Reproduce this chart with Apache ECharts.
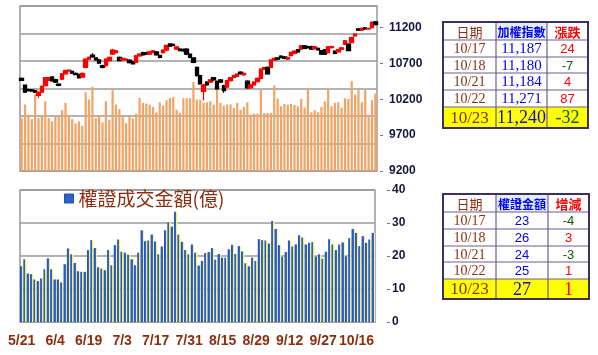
<!DOCTYPE html>
<html>
<head>
<meta charset="utf-8">
<script src="https://cdn.jsdelivr.net/npm/echarts@6/dist/echarts.min.js"></script>
<style>
html,body{margin:0;padding:0;background:#fff;}
#c{width:598px;height:355px;}
</style>
</head>
<body>
<div id="c"></div>
<script>
// ---------------- DATA ----------------
const dates = ['5/21','5/22','5/23','5/24','5/27','5/28','5/29','5/30','5/31','6/3',
 '6/4','6/5','6/6','6/10','6/11','6/12','6/13','6/14','6/17','6/18',
 '6/19','6/20','6/21','6/24','6/25','6/26','6/27','6/28','7/1','7/2',
 '7/3','7/4','7/5','7/8','7/9','7/10','7/11','7/12','7/15','7/16',
 '7/17','7/18','7/19','7/22','7/23','7/24','7/25','7/26','7/29','7/30',
 '7/31','8/1','8/2','8/5','8/6','8/7','8/8','8/12','8/13','8/14',
 '8/15','8/16','8/19','8/20','8/21','8/22','8/23','8/26','8/27','8/28',
 '8/29','8/30','9/2','9/3','9/4','9/5','9/6','9/9','9/10','9/11',
 '9/12','9/16','9/17','9/18','9/19','9/20','9/23','9/24','9/25','9/26',
 '9/27','10/1','10/2','10/3','10/4','10/7','10/8','10/9','10/14','10/15',
 '10/16','10/17','10/18','10/21','10/22','10/23'];

const marketVolume = [963,1207,1024,945,1390,963,982,1268,963,902,
 994,994,1104,1238,1006,945,860,902,823,1433,
 1299,1530,963,1006,884,1268,933,1470,1207,1128,
 994,872,982,957,1043,1329,1238,1226,1207,1165,
 1067,1250,1189,1287,1329,1348,1116,1055,1323,1323,
 1323,1616,1299,1299,1238,1250,1268,1207,1470,1238,
 1189,1210,1210,1146,1238,1116,1165,1250,1024,1043,
 1043,1482,1055,1055,1055,1555,1317,1177,1220,1207,
 1220,1200,1177,1311,1152,1494,1067,1104,1067,1165,
 1262,1500,1177,1238,1250,1152,1323,1311,1634,1390,
 1482,1250,1470,1024,1287,1409];

const openPrice = [10490,10395,10335,10330,10320,10255,10300,10390,10465,10510,
 10475,10410,10480,10555,10595,10590,10560,10545,10510,10645,
 10760,10815,10775,10750,10670,10668,10740,10830,10850,10785,
 10750,10750,10745,10720,10715,10805,10850,10850,10830,10855,
 10860,10810,10850,10885,10970,10965,10900,10900,10895,10900,
 10830,10775,10645,10530,10310,10440,10440,10500,10450,10470,
 10390,10370,10460,10505,10520,10577,10540,10452,10360,10400,
 10445,10490,10620,10645,10645,10745,10775,10800,10790,10760,
 10807,10840,10890,10900,10945,10935,10935,10905,10910,10876,
 10890,10850,10920,10870,10860,10900,10968,10968,10990,11083,
 11180,11165,11195,11180,11200,11280];

const closePrice = [10465,10300,10320,10315,10300,10300,10380,10500,10500,10455,
 10440,10395,10555,10600,10605,10565,10545,10500,10560,10760,
 10785,10790,10750,10705,10645,10760,10785,10885,10875,10740,
 10770,10760,10710,10695,10805,10830,10820,10830,10860,10875,
 10820,10785,10885,10950,10940,10950,10930,10880,10875,10830,
 10785,10715,10530,10415,10400,10400,10470,10470,10345,10440,
 10320,10460,10500,10530,10550,10554,10560,10360,10400,10440,
 10490,10620,10640,10555,10747,10770,10760,10785,10770,10780,
 10852,10870,10860,10945,10910,10920,10900,10930,10890,10830,
 10830,10930,10935,10840,10890,10915,11014,10880,11060,11107,
 11163,11187,11180,11184,11271,11240];

const highPrice = [10502,10407,10347,10342,10332,10312,10392,10512,10512,10522,
 10487,10422,10567,10612,10617,10602,10572,10557,10572,10772,
 10797,10840,10787,10762,10682,10772,10797,10905,10887,10797,
 10782,10772,10757,10732,10817,10842,10862,10862,10872,10887,
 10872,10822,10897,10962,10982,10977,10942,10912,10907,10912,
 10842,10787,10657,10542,10412,10452,10482,10512,10462,10482,
 10402,10472,10512,10542,10562,10589,10572,10464,10412,10452,
 10502,10632,10652,10657,10759,10782,10787,10812,10802,10792,
 10864,10882,10902,10957,10957,10947,10947,10942,10922,10888,
 10902,10942,10947,10882,10902,10927,11026,10980,11072,11119,
 11192,11199,11207,11196,11283,11292];

const lowPrice = [10453,10288,10308,10303,10288,10220,10288,10378,10453,10443,
 10428,10383,10468,10543,10583,10553,10533,10488,10498,10633,
 10748,10778,10738,10693,10633,10656,10728,10818,10838,10728,
 10738,10738,10698,10683,10703,10793,10808,10818,10818,10843,
 10808,10773,10838,10873,10928,10938,10888,10868,10863,10818,
 10773,10703,10518,10403,10185,10388,10428,10458,10333,10428,
 10290,10358,10448,10493,10508,10542,10528,10348,10348,10388,
 10433,10478,10608,10543,10633,10733,10748,10773,10758,10748,
 10795,10828,10848,10888,10898,10908,10888,10893,10878,10818,
 10818,10838,10908,10828,10848,10888,10956,10868,10978,11071,
 11151,11153,11168,11168,11188,11228];

const warrantAmount = [16.9,19.0,14.7,14.5,12.9,12.4,13.2,16.0,19.3,16.0,
 12.9,12.9,12.0,17.5,22.3,20.5,17.9,15.4,15.2,15.2,
 21.8,24.8,22.4,16.6,16.2,15.7,21.8,17.2,23.3,25.0,
 21.3,21.0,20.4,19.0,17.2,21.0,27.8,24.5,24.7,26.5,
 24.4,20.5,22.9,27.8,30.2,28.9,33.4,26.5,24.3,21.8,
 20.5,23.5,21.0,17.1,18.5,20.9,21.2,22.4,18.9,20.6,
 19.5,19.5,22.0,23.4,20.6,23.0,21.4,17.8,16.9,19.5,
 18.5,25.1,24.8,24.7,23.8,30.6,28.2,23.3,19.8,21.2,
 24.7,22.9,23.5,26.3,25.6,23.5,24.0,24.2,19.8,20.5,
 19.2,21.3,25.1,23.5,21.8,23.5,24.1,19.9,25.4,28.2,
 27,23,26,24,25,27];

const warrantName = '權證成交金額(億)';

const idxTableHeader = ['日期','加權指數','漲跌'];
const idxTableDates = ['10/17','10/18','10/21','10/22','10/23'];
const idxTableValues = ['11,187','11,180','11,184','11,271','11,240'];
const idxTableChanges = ['24','-7','4','87','-32'];

const wTableHeader = ['日期','權證金額','增減'];
const wTableDates = ['10/17','10/18','10/21','10/22','10/23'];
const wTableValues = ['23','26','24','25','27'];
const wTableChanges = ['-4','3','-3','1','1'];

// ---------------- LAYOUT / STYLE ----------------
const GRID_GRAY = '#9a9a9a';
const BROWN = '#8B2E10';
const BLUE = '#0000F0';
const RED = '#FF0000';
const GREEN = '#0B5A0B';

function buildTable(cols, rows, header, c1, c2, c3, valueFont) {
  const els = [];
  const nRows = rows.length - 1;
  els.push({type:'rect', z:1, shape:{x:cols[0], y:rows[nRows-1], width:cols[3]-cols[0], height:rows[nRows]-rows[nRows-1]}, style:{fill:'#FFFF00'}});
  els.push({type:'rect', z:1, shape:{x:cols[1], y:rows[0], width:cols[2]-cols[1], height:rows[1]-rows[0]}, style:{fill:'#E3EEF9'}});
  for (let r = 1; r < nRows; r++) {
    els.push({type:'line', z:2, shape:{x1:cols[0], y1:rows[r], x2:cols[3], y2:rows[r]}, style:{stroke:'#6E5F8C', lineWidth:1.2}});
  }
  for (let c = 1; c < 3; c++) {
    els.push({type:'line', z:2, shape:{x1:cols[c], y1:rows[0], x2:cols[c], y2:rows[nRows]}, style:{stroke:'#6E5F8C', lineWidth:1.2}});
  }
  els.push({type:'rect', z:3, shape:{x:cols[0], y:rows[0], width:cols[3]-cols[0], height:rows[nRows]-rows[0]}, style:{fill:'none', stroke:'#3E2F63', lineWidth:2}});
  const cx = [(cols[0]+cols[1])/2, (cols[1]+cols[2])/2, (cols[2]+cols[3])/2];
  const hy = (rows[0]+rows[1])/2 + 1;
  els.push({type:'text', z:4, x:cx[0], y:hy, style:{text:header[0], fill:BROWN, font:'13px "Noto Sans CJK TC"', align:'center', verticalAlign:'middle'}});
  els.push({type:'text', z:4, x:cx[1], y:hy, style:{text:header[1], fill:BLUE, font:'bold 12px "Noto Sans CJK TC"', align:'center', verticalAlign:'middle'}});
  els.push({type:'text', z:4, x:cx[2], y:hy, style:{text:header[2], fill:RED, font:'bold 13px "Noto Sans CJK TC"', align:'center', verticalAlign:'middle'}});
  for (let i = 0; i < c1.length; i++) {
    const last = i === c1.length - 1;
    const y = (rows[i+1]+rows[i+2])/2 + 1;
    const chgColor = c3[i].charAt(0) === '-' ? GREEN : RED;
    els.push({type:'text', z:4, x:cx[0], y:y, style:{text:c1[i], fill:BROWN, font:(last?'17px':'14px')+' "Liberation Serif"', align:'center', verticalAlign:'middle'}});
    els.push({type:'text', z:4, x:cx[1], y:y, style:{text:c2[i], fill:last?'#1010C0':BLUE, font:last?'18px "Liberation Serif"':valueFont, align:'center', verticalAlign:'middle'}});
    els.push({type:'text', z:4, x:cx[2], y:y, style:{text:c3[i], fill:chgColor, font:last?'18px "Liberation Serif"':'13px "Liberation Sans"', align:'center', verticalAlign:'middle'}});
  }
  return els;
}

const graphicEls = []
  .concat(buildTable([443,496,547,588], [22,40,57,73,90,107,128], idxTableHeader, idxTableDates, idxTableValues, idxTableChanges, '15px "Liberation Serif"'))
  .concat(buildTable([443,496,548,589], [194,212,229,246,262,279,299], wTableHeader, wTableDates, wTableValues, wTableChanges, '13px "Liberation Sans"'));

const candleData = dates.map((d, i) => [openPrice[i], closePrice[i], lowPrice[i], highPrice[i]]);

const warrantColor = {type:'linear', x:0, y:0, x2:1, y2:0, colorStops:[
  {offset:0, color:'#1F4FB8'}, {offset:0.6, color:'#3568D4'},
  {offset:0.6, color:'#F2EE55'}, {offset:1, color:'#FBF8A8'}]};

const plainNum = v => String(v);

const chart = echarts.init(document.getElementById('c'), null, {renderer:'canvas'});
chart.setOption({
  animation:false,
  backgroundColor:'#ffffff',
  textStyle:{fontFamily:'Liberation Sans'},
  grid:[
    {left:20, top:6, width:357, height:165, show:true, borderColor:GRID_GRAY, borderWidth:1.5, backgroundColor:'transparent'},
    {left:20, top:190, width:355, height:132, show:true, borderColor:GRID_GRAY, borderWidth:1.5, backgroundColor:'transparent'}
  ],
  legend:{
    data:[{name:warrantName, icon:'rect', itemStyle:{color:'#2E62C8', borderColor:'#1F4FB8', borderWidth:1}}],
    left:64, top:189, padding:0, itemWidth:9, itemHeight:9, itemGap:6,
    textStyle:{fontSize:19, color:BROWN, fontFamily:'"Noto Sans CJK TC"'}
  },
  xAxis:[
    {type:'category', gridIndex:0, data:dates, show:false},
    {type:'category', gridIndex:1, data:dates,
      axisLine:{lineStyle:{color:GRID_GRAY, width:1.5}},
      axisTick:{interval:0, length:3, lineStyle:{color:GRID_GRAY}},
      axisLabel:{interval:9, color:BROWN, fontWeight:'bold', fontSize:14, fontFamily:'Liberation Sans', margin:12}}
  ],
  yAxis:[
    {type:'value', gridIndex:0, min:0, max:3000, interval:500,
      axisLabel:{show:false}, axisTick:{show:false}, axisLine:{show:false},
      splitLine:{lineStyle:{color:GRID_GRAY, width:1.5}}},
    {type:'value', gridIndex:0, position:'right', min:9200, max:11500, interval:500, offset:3,
      splitLine:{show:false}, axisLine:{show:false},
      axisTick:{show:true, length:3, lineStyle:{color:'#777'}},
      axisLabel:{margin:9, color:'#16163C', fontWeight:'bold', fontSize:12, showMaxLabel:false, formatter:plainNum}},
    {type:'value', gridIndex:1, position:'right', min:0, max:40, interval:10, offset:12,
      splitLine:{lineStyle:{color:GRID_GRAY, width:1.5}}, axisLine:{show:false},
      axisTick:{show:true, length:3, lineStyle:{color:'#777'}},
      axisLabel:{margin:5, color:'#16163C', fontWeight:'bold', fontSize:12, formatter:plainNum}}
  ],
  series:[
    {type:'bar', name:'成交量', xAxisIndex:0, yAxisIndex:0, data:marketVolume, barWidth:'66%',
      itemStyle:{color:'#F1A466'}, silent:true},
    {type:'candlestick', name:'加權指數', xAxisIndex:0, yAxisIndex:1, data:candleData, barWidth:4,
      itemStyle:{color:'#FF0000', color0:'#000000', borderColor:'#FF0000', borderColor0:'#000000', borderWidth:1.3}},
    {type:'bar', name:warrantName, xAxisIndex:1, yAxisIndex:2, data:warrantAmount, barWidth:'100%',
      itemStyle:{color:warrantColor}}
  ],
  graphic:graphicEls
});
</script>
</body>
</html>
